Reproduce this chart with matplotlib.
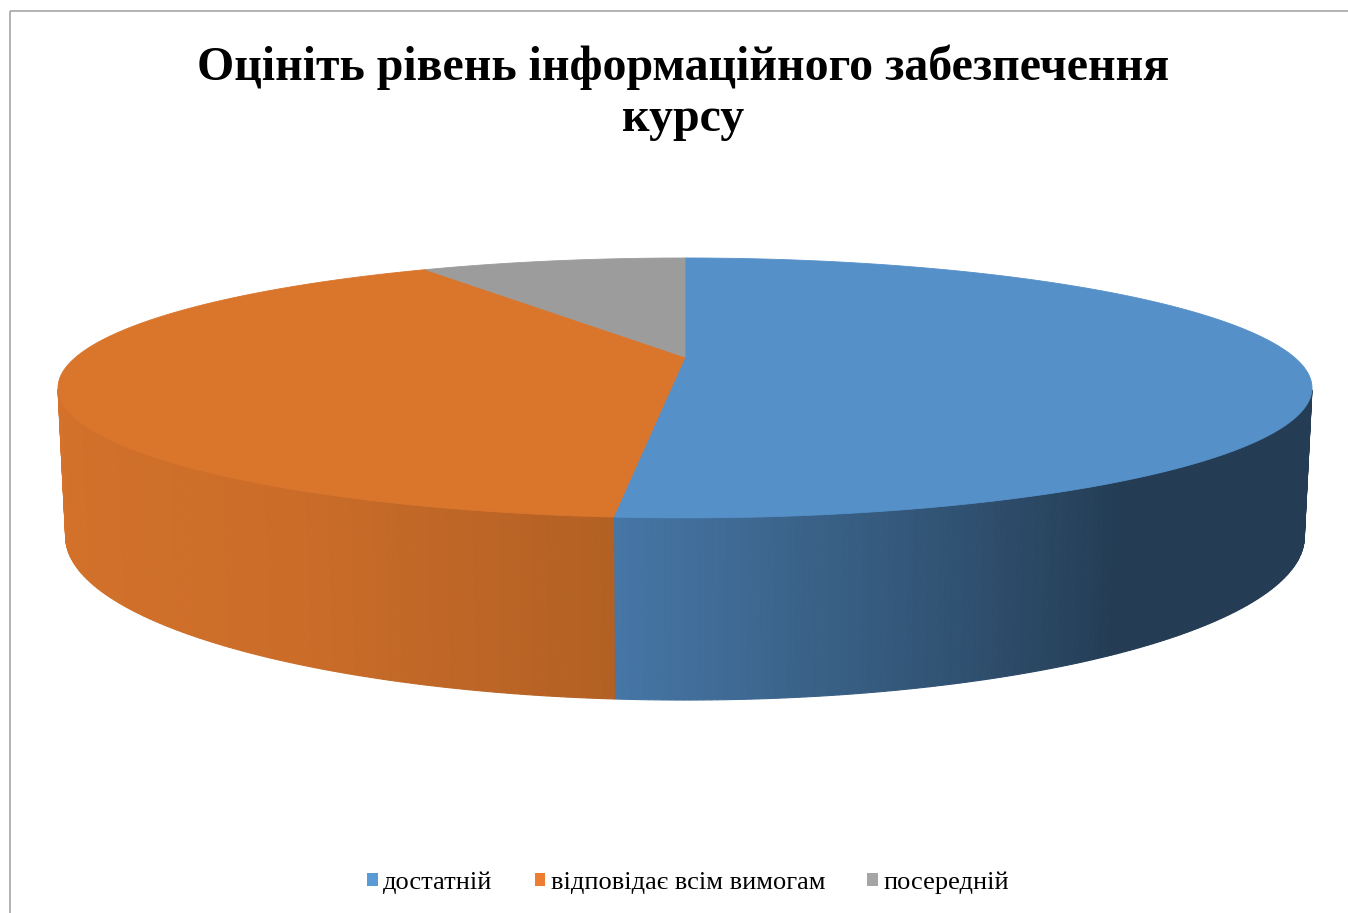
import numpy as np
import matplotlib
matplotlib.use("Agg")
import matplotlib.pyplot as plt
from matplotlib.patches import Polygon, Patch, Rectangle

# дані діаграми
categories = ["достатній", "відповідає всім вимогам", "посередній"]
values = [18, 14, 3]
top_colors = ["#5590C9", "#DA752C", "#9C9C9C"]
legend_colors = ["#5B9BD5", "#ED7D31", "#A5A5A5"]
title = "Оцініть рівень інформаційного забезпечення\nкурсу"

W, H_PX = 1348, 913

# параметри перспективи (в пікселях полотна)
cx, cy = 685, 357
F = 2506.0
dist = 4.115
elev = np.arcsin(0.2013)
depth = 0.2394

# освітлення бічної стінки: кут (град) -> множник яскравості
light_ang = [180, 240, 265, 305, 360]
light_fac = [0.99, 0.93, 0.82, 0.42, 0.42]


def proj(X, Y, Z):
    # перспективна проекція точки диска на екран
    py = Y + dist * np.cos(elev)
    pz = Z - dist * np.sin(elev)
    yc = py * np.sin(elev) + pz * np.cos(elev)
    zc = py * np.cos(elev) - pz * np.sin(elev)
    return cx + F * X / zc, cy - F * yc / zc


def shade(hexcol, a):
    rgb = np.array(matplotlib.colors.to_rgb(hexcol))
    deg = np.degrees(a) % 360
    f = np.interp(deg, light_ang, light_fac)
    return tuple(np.clip(rgb * f, 0, 1))


fig = plt.figure(figsize=(W / 100, H_PX / 100), dpi=100)
ax = fig.add_axes([0, 0, 1, 1])
ax.set_xlim(0, W)
ax.set_ylim(H_PX, 0)
ax.axis("off")

# рамка діаграми
ax.add_patch(Rectangle((9.5, 11.5), W + 20, H_PX + 20, fill=False,
                       edgecolor="#A6A6A6", lw=1.2))

total = float(sum(values))
# старт з 12 години, за годинниковою стрілкою
starts = []
ang = np.pi / 2
for v in values:
    span = 2 * np.pi * v / total
    starts.append((ang, ang - span))
    ang -= span

vis_lim = -1.0 / (dist * np.cos(elev))

# бокова стінка
for (a0, a1), col in zip(starts, top_colors):
    n = max(int(abs(a0 - a1) / np.radians(0.5)), 2)
    aa = np.linspace(a0, a1, n + 1)
    for s, e in zip(aa[:-1], aa[1:]):
        m = 0.5 * (s + e)
        if np.sin(m) >= vis_lim:
            continue
        xt0, yt0 = proj(np.cos(s), np.sin(s), 0)
        xt1, yt1 = proj(np.cos(e), np.sin(e), 0)
        xb1, yb1 = proj(np.cos(e), np.sin(e), -depth)
        xb0, yb0 = proj(np.cos(s), np.sin(s), -depth)
        c = shade(col, m)
        ax.add_patch(Polygon([(xt0, yt0), (xt1, yt1), (xb1, yb1), (xb0, yb0)],
                             closed=True, facecolor=c, edgecolor=c, lw=0.8))

# верхня грань
for (a0, a1), col in zip(starts, top_colors):
    aa = np.linspace(a0, a1, 200)
    xs, ys = proj(np.cos(aa), np.sin(aa), 0 * aa)
    x0, y0 = proj(0.0, 0.0, 0.0)
    pts = [(x0, y0)] + list(zip(xs, ys))
    ax.add_patch(Polygon(pts, closed=True, facecolor=col, edgecolor=col, lw=0.6))

fig.text(683 / W, 1 - 93 / H_PX, title, ha="center", va="center",
         fontsize=34.5, fontweight="bold", family="Liberation Serif",
         linespacing=1.2)

handles = [Patch(facecolor=c, edgecolor="none") for c in legend_colors]
fig.legend(handles, categories, loc="center", bbox_to_anchor=(688 / W, 1 - 883 / H_PX),
           ncol=3, frameon=False, handlelength=0.4, handleheight=0.4,
           handletextpad=0.2, columnspacing=1.6,
           prop={"family": "Liberation Serif", "size": 19})

fig.savefig("out.png", dpi=100, facecolor="white")
